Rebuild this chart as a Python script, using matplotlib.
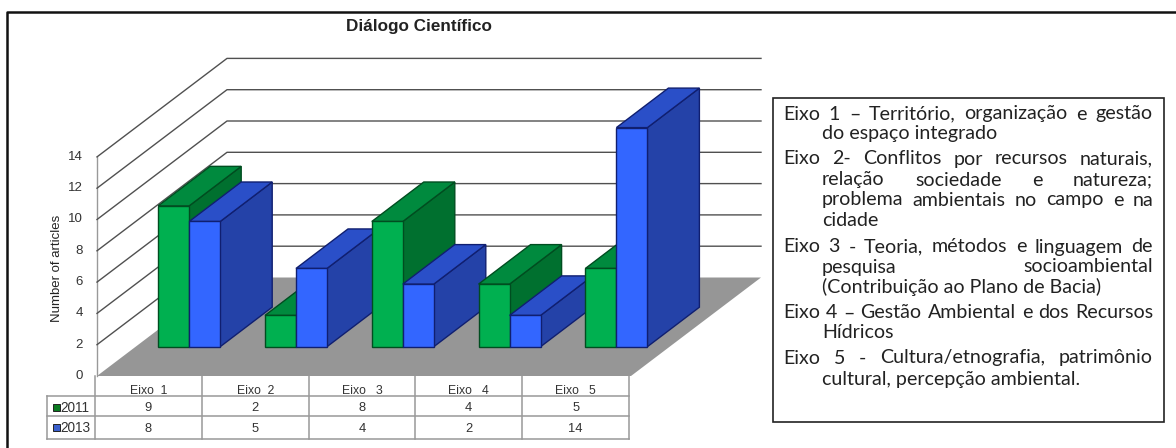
import matplotlib
matplotlib.use("Agg")
import matplotlib.pyplot as plt
from matplotlib.patches import Polygon, Rectangle

# Data
categories = ["Eixo  1", "Eixo  2", "Eixo   3", "Eixo   4", "Eixo   5"]
values_2011 = [9, 2, 8, 4, 5]
values_2013 = [8, 5, 4, 2, 14]
years = ["2011", "2013"]
y_ticks = [0, 2, 4, 6, 8, 10, 12, 14]

# Legend text: (text, indented, justified, y centre)
legend_lines = [
    ("Eixo  1 – Território, organização e gestão", False, True, 114),
    ("do espaço integrado", True, False, 133),
    ("Eixo  2-  Conflitos por recursos naturais,", False, True, 159),
    ("relação sociedade e natureza;", True, True, 180),
    ("problema ambientais no campo e na", True, True, 200),
    ("cidade", True, False, 220),
    ("Eixo  3 - Teoria, métodos e linguagem de", False, True, 247),
    ("pesquisa socioambiental", True, True, 267),
    ("(Contribuição ao Plano de Bacia)", True, False, 287),
    ("Eixo  4 – Gestão Ambiental e dos Recursos", False, True, 313),
    ("Hídricos", True, False, 333),
    ("Eixo  5 - Cultura/etnografia, patrimônio", False, True, 358),
    ("cultural, percepção ambiental.", True, False, 380),
]

# Chart geometry in pixels
x0, y0 = 97, 376
unit = 15.65
cat_w = 106.8
wall_dx, wall_dy = 130, 98.5
bar_w = 31
bar_dx, bar_dy = 52, 39.5
base_dx, base_dy = 38.7, 29.3
bar_gap = 22.5

fig = plt.figure(figsize=(11.76, 4.48), dpi=100)
ax = fig.add_axes([0, 0, 1, 1])
ax.set_xlim(0, 1176)
ax.set_ylim(448, 0)
ax.axis("off")

plt.rcParams["font.family"] = "Liberation Sans"

# Outer frame, open on the right and at the bottom
ax.plot([7, 7, 1176], [448, 12.5, 12.5], color="#111111", lw=1.8)

# Floor
n = len(categories)
x1 = x0 + n * cat_w
ax.add_patch(Polygon([(x0, y0), (x1, y0), (x1 + wall_dx, y0 - wall_dy), (x0 + wall_dx, y0 - wall_dy)],
                     facecolor="#969696", edgecolor="none", zorder=1))

# Gridlines on the walls
ax.plot([x0, x0], [y0, y0 - 14 * unit], color="#999999", lw=1, zorder=2)
for t in y_ticks:
    y = y0 - t * unit
    if t > 0:
        ax.plot([x0, x0 + wall_dx, x1 + wall_dx], [y, y - wall_dy, y - wall_dy], color="#505050", lw=1, zorder=2)
    ax.text(x0 - 14, y, str(t), ha="right", va="center", fontsize=9.5, color="#333333")

ax.text(57, 268, "Number of articles", rotation=90, ha="center", va="center", fontsize=9.5, color="#222222")
ax.text(419, 26, "Diálogo Científico", ha="center", va="center", fontsize=12.3, fontweight="bold", color="#222222")


def draw_bar(x, value, front, top, side, edge):
    yb = y0 - base_dy
    yt = yb - value * unit
    xr = x + bar_w
    ax.add_patch(Polygon([(xr, yb), (xr + bar_dx, yb - bar_dy), (xr + bar_dx, yt - bar_dy), (xr, yt)],
                         facecolor=side, edgecolor=edge, lw=1, zorder=3))
    ax.add_patch(Polygon([(x, yt), (xr, yt), (xr + bar_dx, yt - bar_dy), (x + bar_dx, yt - bar_dy)],
                         facecolor=top, edgecolor=edge, lw=1, zorder=3))
    ax.add_patch(Rectangle((x, yt), bar_w, yb - yt, facecolor=front, edgecolor=edge, lw=1, zorder=3))


# Bars, left to right so each one covers the side of the previous one
for i in range(n):
    xs = x0 + base_dx + bar_gap + i * cat_w
    draw_bar(xs, values_2011[i], "#00B050", "#008A3E", "#00702F", "#004D20")
    draw_bar(xs + bar_w, values_2013[i], "#3366FF", "#2A4FC8", "#2442A8", "#101F70")

# Table under the chart
tc = "#999999"
r0, r1, r2 = 396.5, 416.5, 439
ax.plot([x0 - 2, x0 - 2], [y0, r2], color=tc, lw=1.1)
ax.plot([47, 47], [r0, r2], color=tc, lw=1.1)
for y in [r0, r1, r2]:
    ax.plot([47, x1 - 2], [y, y], color=tc, lw=1.1)
for i in range(n):
    xe = x0 - 2 + (i + 1) * cat_w
    ax.plot([xe, xe], [y0, r2], color=tc, lw=1.1)
    xc = x0 - 2 + (i + 0.5) * cat_w
    ax.text(xc, 391, categories[i], ha="center", va="center", fontsize=8.8, color="#333333")
    ax.text(xc, 408, str(values_2011[i]), ha="center", va="center", fontsize=9.3, color="#333333")
    ax.text(xc, 429, str(values_2013[i]), ha="center", va="center", fontsize=9.3, color="#333333")

ax.text(60, 408, years[0], ha="left", va="center", fontsize=9.8, color="#333333")
ax.text(60, 428, years[1], ha="left", va="center", fontsize=9.8, color="#333333")
ax.add_patch(Rectangle((52.5, 404.5), 7, 7, facecolor="#0A7A20", edgecolor="#222222", lw=0.7))
ax.add_patch(Rectangle((52.5, 424.5), 7, 7, facecolor="#3A5FCC", edgecolor="#222222", lw=0.7))

# Legend box with justified lines
ax.add_patch(Rectangle((773, 98.5), 391, 323.5, facecolor="white", edgecolor="#222222", lw=1.2, zorder=4))
left, indent, right = 783, 822, 1153
renderer = fig.canvas.get_renderer()
for line, indented, justified, y in legend_lines:
    xs = indent if indented else left
    style = dict(ha="left", va="center", fontsize=14.1, family="Lato", color="#222222", zorder=5)
    if not justified:
        ax.text(xs, y, line, **style)
        continue
    words = [ax.text(xs, y, w, **style) for w in line.split()]
    widths = [w.get_window_extent(renderer).width for w in words]
    gap = (right - xs - sum(widths)) / (len(words) - 1)
    pos = xs
    for w, width in zip(words, widths):
        w.set_x(pos)
        pos += width + gap

fig.savefig("out.png", dpi=100)
